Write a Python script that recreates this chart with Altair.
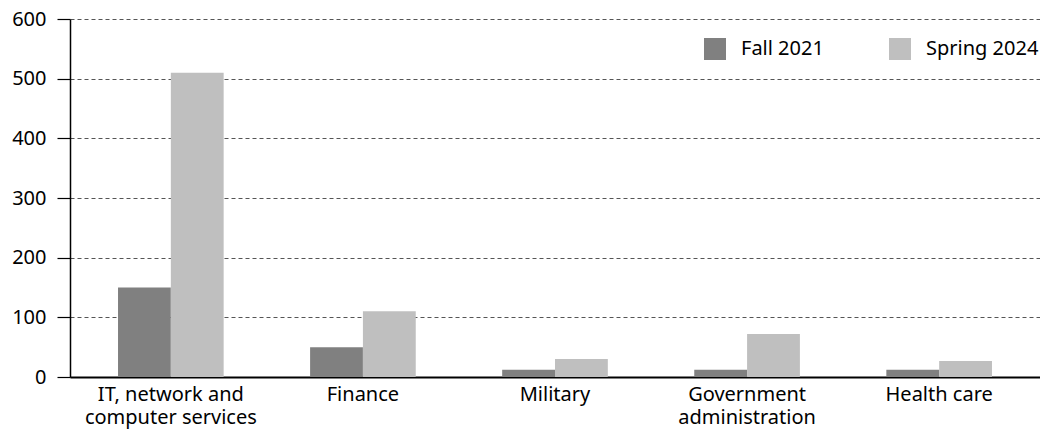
import altair as alt
import pandas as pd

categories = ["IT, network and|computer services", "Finance", "Military", "Government|administration", "Health care"]
fall_2021 = [150, 50, 12, 12, 12]
spring_2024 = [510, 110, 30, 72, 27]
series = ["Fall 2021", "Spring 2024"]
colors = ["#808080", "#bfbfbf"]
y_ticks = [0, 100, 200, 300, 400, 500, 600]

rows = []
for c, f, s in zip(categories, fall_2021, spring_2024):
    rows.append({"category": c, "series": series[0], "value": f})
    rows.append({"category": c, "series": series[1], "value": s})
df = pd.DataFrame(rows)

FONT = "Noto Sans"
FS = 20

bars = alt.Chart(df).mark_bar().encode(
    x=alt.X("category:N", sort=categories,
            scale=alt.Scale(paddingInner=0.45, paddingOuter=0.25),
            axis=alt.Axis(title=None, labelAngle=0, labelExpr="split(datum.label, '|')",
                          labelFontSize=FS, labelColor="#000", labelFont=FONT,
                          labelPadding=7, labelLineHeight=23, ticks=False,
                          domain=True, domainColor="#000", domainWidth=2)),
    xOffset=alt.XOffset("series:N", sort=series),
    y=alt.Y("value:Q", scale=alt.Scale(domain=[0, 600], nice=False),
            axis=alt.Axis(title=None, values=y_ticks, labelFontSize=FS, labelColor="#000",
                          labelFont=FONT, tickSize=13, tickColor="#000", tickWidth=1.2,
                          labelPadding=11, domain=True, domainColor="#000", domainWidth=1.5,
                          grid=True, gridColor="#555", gridDash=[4, 3], gridWidth=1)),
    color=alt.Color("series:N", sort=series,
                    scale=alt.Scale(domain=series, range=colors),
                    legend=alt.Legend(title=None, orient="none", direction="horizontal",
                                      legendX=634, legendY=19, symbolType="square",
                                      symbolSize=484, symbolStrokeWidth=0, symbolOpacity=1,
                                      labelFontSize=FS, labelFont=FONT, labelColor="#000",
                                      labelOffset=15, columnPadding=65, padding=0)),
)

chart = bars.properties(
    width=970, height=358,
    autosize=alt.AutoSizeParams(type="none"),
    padding={"left": 62, "top": 11, "right": 0, "bottom": 58},
).configure_view(stroke=None).configure_axisX(gridWidth=0)

chart.save("out.html", embed_options={"renderer": "svg", "actions": False})
